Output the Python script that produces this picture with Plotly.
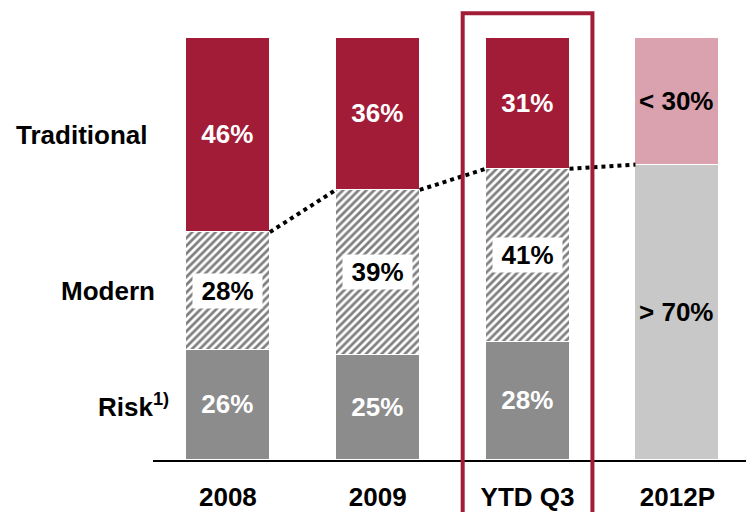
import plotly.graph_objects as go

# Category labels and segment shares (%)
categories = ["2008", "2009", "YTD Q3", "2012P"]
risk = [26, 25, 28]
modern = [28, 39, 41]
traditional = [46, 36, 31]
outlook_modern_risk = [70]     # 2012P: Modern + Risk
outlook_traditional = [30]     # 2012P: Traditional
outlook_text_low = ["> 70%"]
outlook_text_high = ["< 30%"]
row_labels = ["Traditional", "Modern", "Risk<sup>1)</sup>"]

RED = "#A21C38"
GRAY = "#8C8C8C"
PINK = "#D9A2AE"
LIGHT = "#C8C8C8"
FONT = "Liberation Sans, Arial, sans-serif"
FS = 26
BAR_W = 0.56

W, H = 746, 512
ML, MR, MT, MB = 153, 0, 38, 49
XMIN, XMAX = -0.5, 3.458

hist_x = list(range(len(risk)))
out_x = [len(risk)]

fig = go.Figure()

sep = dict(color="white", width=1.5)
txt_white = dict(family=FONT, size=FS, color="white", weight="bold")
txt_black = dict(family=FONT, size=FS, color="black", weight="bold")

fig.add_trace(go.Bar(
    x=hist_x, y=risk, width=BAR_W, marker=dict(color=GRAY, line=sep),
    text=[f"{v}%" for v in risk], textfont=txt_white,
))
fig.add_trace(go.Bar(
    x=hist_x, y=modern, width=BAR_W,
    marker=dict(color="white", line=sep,
                pattern=dict(shape="/", fgcolor="#000000", bgcolor="white",
                             size=5.5, solidity=0.5)),
))
fig.add_trace(go.Bar(
    x=hist_x, y=traditional, width=BAR_W, marker=dict(color=RED, line=sep),
    text=[f"{v}%" for v in traditional], textfont=txt_white,
))
fig.add_trace(go.Bar(
    x=out_x, y=outlook_modern_risk, width=BAR_W, marker=dict(color=LIGHT, line=sep),
    text=outlook_text_low, textfont=txt_black,
))
fig.add_trace(go.Bar(
    x=out_x, y=outlook_traditional, width=BAR_W, marker=dict(color=PINK, line=sep),
    text=outlook_text_high, textfont=txt_black,
))
fig.update_traces(selector=dict(type="bar"), textposition="inside",
                  insidetextanchor="middle", textangle=0, hoverinfo="skip",
                  constraintext="none")

# Dotted connectors between the tops of the Modern+Risk share
tops = [r + m for r, m in zip(risk, modern)] + outlook_modern_risk
half = BAR_W / 2
for i in range(len(tops) - 1):
    fig.add_trace(go.Scatter(
        x=[i + half, i + 1 - half], y=[tops[i], tops[i + 1]], mode="lines",
        line=dict(color="black", width=4, dash="4px,4px"), hoverinfo="skip",
    ))

annotations = []
# White-boxed labels on the hatched segments
for i, (r, m) in enumerate(zip(risk, modern)):
    annotations.append(dict(
        x=i, y=r + m / 2, xref="x", yref="y", text=f"{m}%", showarrow=False,
        font=txt_black, bgcolor="white", width=67, height=32,
    ))

# Row labels on the left, aligned with the first column's segments
first_centers = [
    risk[0] + modern[0] + traditional[0] / 2,
    risk[0] + modern[0] / 2,
    risk[0] / 2,
]
label_right_px = [149, 157, 171]
plot_w = W - ML - MR
for lab, yc, px in zip(row_labels, first_centers, label_right_px):
    annotations.append(dict(
        x=(px - ML) / plot_w, y=yc, xref="paper", yref="y", text=lab,
        showarrow=False, xanchor="right", yanchor="middle",
        font=dict(family=FONT, size=FS, color="black", weight="bold"),
    ))

# Highlight frame around the year-to-date column
def to_paper(xv):
    return (xv - XMIN) / (XMAX - XMIN)

frame_half = 0.433
shapes = [dict(
    type="rect", xref="paper", yref="paper",
    x0=to_paper(2 - frame_half), x1=to_paper(2 + frame_half),
    y0=-0.3, y1=1 + 25 / (H - MT - MB),
    line=dict(color=RED, width=4), fillcolor="rgba(0,0,0,0)", layer="above",
)]

fig.update_layout(
    width=W, height=H, margin=dict(l=ML, r=MR, t=MT, b=MB),
    barmode="stack", bargap=0, showlegend=False,
    plot_bgcolor="white", paper_bgcolor="white",
    annotations=annotations, shapes=shapes,
    xaxis=dict(range=[XMIN, XMAX], tickvals=list(range(len(categories))),
               ticktext=categories, showgrid=False, zeroline=False,
               showline=True, linecolor="black", linewidth=2, ticks="",
               tickfont=dict(family=FONT, size=FS, color="black", weight="bold"),
               ticklabelstandoff=13, fixedrange=True),
    yaxis=dict(range=[0, 100], visible=False, fixedrange=True),
)

fig.write_html("out.html")
